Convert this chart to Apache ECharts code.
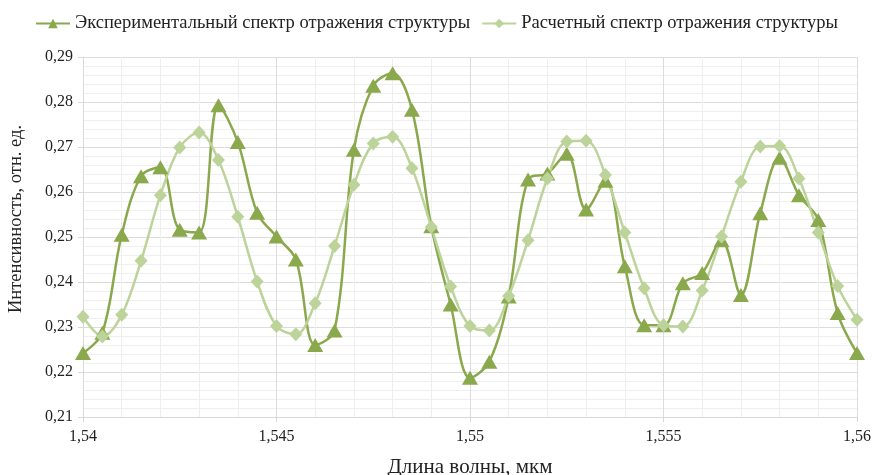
<!DOCTYPE html>
<html>
<head>
<meta charset="utf-8">
<script src="https://cdn.jsdelivr.net/npm/echarts@6/dist/echarts.min.js"></script>
<style>html,body{margin:0;padding:0;background:#fff}#c{width:873px;height:475px}</style>
</head>
<body>
<div id="c"></div>
<script>
var wavelengths = [1.5400,1.5405,1.5410,1.5415,1.5420,1.5425,1.5430,1.5435,1.5440,1.5445,1.5450,1.5455,1.5460,1.5465,1.5470,1.5475,1.5480,1.5485,1.5490,1.5495,1.5500,1.5505,1.5510,1.5515,1.5520,1.5525,1.5530,1.5535,1.5540,1.5545,1.5550,1.5555,1.5560,1.5565,1.5570,1.5575,1.5580,1.5585,1.5590,1.5595,1.5600];
var experimental = [0.2242,0.2287,0.2505,0.2635,0.2655,0.2516,0.2510,0.2793,0.2711,0.2554,0.2501,0.2450,0.2260,0.2292,0.2694,0.2836,0.2864,0.2783,0.2524,0.2350,0.2187,0.2223,0.2368,0.2628,0.2641,0.2685,0.2561,0.2625,0.2435,0.2304,0.2304,0.2397,0.2420,0.2493,0.2371,0.2553,0.2676,0.2593,0.2538,0.2331,0.2242];
var calculated = [0.2323,0.2279,0.2327,0.2447,0.2593,0.2699,0.2732,0.2671,0.2545,0.2401,0.2302,0.2284,0.2353,0.2480,0.2616,0.2708,0.2723,0.2653,0.2522,0.2390,0.2302,0.2292,0.2369,0.2493,0.2630,0.2712,0.2714,0.2638,0.2510,0.2386,0.2304,0.2301,0.2381,0.2501,0.2623,0.2701,0.2702,0.2630,0.2510,0.2391,0.2316];
var seriesNames = ['Экспериментальный спектр отражения структуры','Расчетный спектр отражения структуры'];
var xTitle = 'Длина волны, мкм';
var yTitle = 'Интенсивность, отн. ед.';

function pairs(xs, ys){ return xs.map(function(x,i){ return [x, ys[i]]; }); }
var font = '"Liberation Serif","Times New Roman",serif';
var darkGreen = '#8AA84C';
var lightGreen = '#BCD39A';

var chart = echarts.init(document.getElementById('c'), null, {renderer:'canvas'});
chart.setOption({
  animation:false,
  backgroundColor:'#fff',
  textStyle:{fontFamily:font},
  legend:{
    top:9, left:'center', itemWidth:34, itemHeight:12, itemGap:11,
    textStyle:{fontFamily:font, fontSize:18.5, color:'#222'},
    data:seriesNames
  },
  grid:{left:83, right:16, top:57, bottom:58, containLabel:false, outerBoundsMode:'none'},
  xAxis:{
    type:'value', min:1.54, max:1.56, interval:0.005,
    name:xTitle, nameLocation:'middle', nameGap:40,
    nameTextStyle:{fontFamily:font, fontSize:21, color:'#222'},
    axisLine:{show:true, lineStyle:{color:'#d9d9d9'}},
    axisTick:{show:true, length:5, lineStyle:{color:'#d9d9d9'}},
    axisLabel:{fontFamily:font, fontSize:16, color:'#222', margin:12,
      formatter:function(v){ return String(parseFloat(v.toFixed(4))).replace('.', ','); }},
    splitLine:{show:true, lineStyle:{color:'#dcdcdc', width:1}},
    minorTick:{show:false, splitNumber:5},
    minorSplitLine:{show:true, lineStyle:{color:'#efefef', width:1}}
  },
  yAxis:{
    type:'value', min:0.21, max:0.29, interval:0.01,
    name:yTitle, nameLocation:'middle', nameGap:57, nameRotate:90,
    nameTextStyle:{fontFamily:font, fontSize:18.5, color:'#222', padding:[0,0,0,36]},
    axisLine:{show:true, lineStyle:{color:'#d9d9d9'}},
    axisTick:{show:true, length:5, lineStyle:{color:'#d9d9d9'}},
    axisLabel:{fontFamily:font, fontSize:16, color:'#222', margin:10,
      formatter:function(v){ return v.toFixed(2).replace('.', ','); }},
    splitLine:{show:true, lineStyle:{color:'#dcdcdc', width:1}},
    minorTick:{show:false, splitNumber:5},
    minorSplitLine:{show:true, lineStyle:{color:'#efefef', width:1}}
  },
  series:[
    {
      name:seriesNames[0], type:'line', smooth:0.35,
      data:pairs(wavelengths, experimental),
      symbol:'triangle', symbolSize:[16,14],
      lineStyle:{color:darkGreen, width:2.5},
      itemStyle:{color:darkGreen, borderWidth:0}
    },
    {
      name:seriesNames[1], type:'line', smooth:0.35,
      data:pairs(wavelengths, calculated),
      symbol:'diamond', symbolSize:[13,14],
      lineStyle:{color:lightGreen, width:2.5},
      itemStyle:{color:lightGreen, borderWidth:0}
    }
  ]
});
</script>
</body>
</html>
